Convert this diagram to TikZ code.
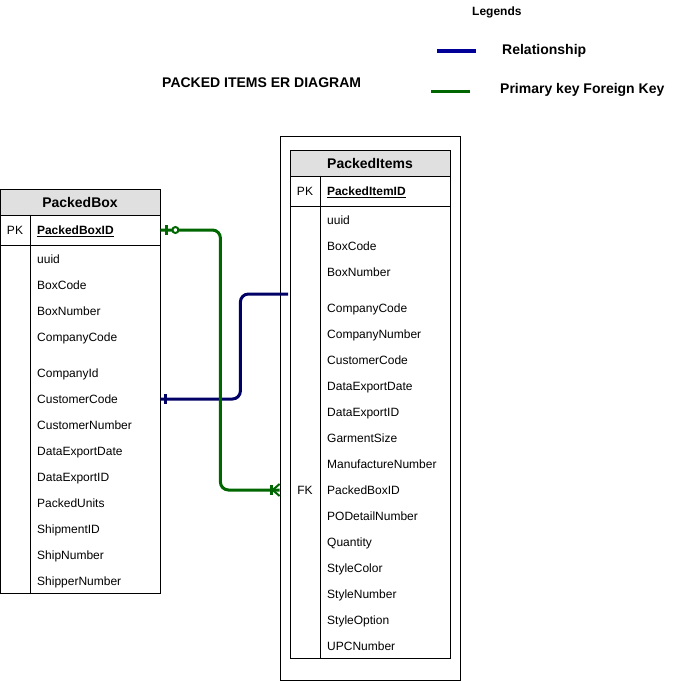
\documentclass[tikz,border=0pt]{standalone}
\usepackage{fontspec}
\setmainfont{Liberation Sans}
\usetikzlibrary{calc}
\definecolor{relblue}{RGB}{0,0,102}
\definecolor{legblue}{RGB}{0,0,153}
\definecolor{keygreen}{RGB}{0,102,0}
\definecolor{headgray}{RGB}{224,224,224}

\begin{document}
\begin{tikzpicture}[x=1pt,y=-1pt]
				\tikzstyle{tablebox}=[draw, line width=0.8pt, inner sep=0pt]
				\tikzstyle{tablehead}=[tablebox, fill=headgray, minimum width=160, minimum height=26, font=\fontsize{14}{16}\selectfont\bfseries, text height=10, text depth=0]
				\tikzstyle{keycell}=[tablebox, minimum width=30, minimum height=30, font=\fontsize{12}{14}\selectfont, text height=8.6, text depth=0]
				\tikzstyle{pkcell}=[tablebox, minimum height=30, text width=116, inner xsep=7, align=left, font=\fontsize{12}{14}\selectfont\bfseries, text height=8.6, text depth=0]
				\tikzstyle{fieldtext}=[anchor=west, inner sep=0pt, font=\fontsize{12}{14}\selectfont, text height=8.6, text depth=0]
				\tikzstyle{legendtext}=[anchor=west, inner sep=0pt, font=\fontsize{14}{16}\selectfont\bfseries, text height=10, text depth=0]
				\tikzstyle{relline}=[draw=relblue, line width=3pt, rounded corners=8]
				\tikzstyle{keyline}=[draw=keygreen, line width=3pt, rounded corners=8]
				\newcommand\XBoxText{37}
				\newcommand\XItemText{327}

				\useasboundingbox (0,0) rectangle (679,681);

				% Legend
				\node [legendtext, font=\fontsize{12}{14}\selectfont\bfseries] at (472,10) (legtitle) {Legends};
				\node [legendtext] at (502,49) (legrel) {Relationship};
				\node [legendtext] at (500,88) (legkey) {Primary key Foreign Key};
				\draw [draw=legblue, line width=4pt] ($(legrel.west)+(-65,2)$) -- ++(39,0);
				\draw [draw=keygreen, line width=3pt] ($(legkey.west)+(-69,3)$) -- ++(39,0);
				\node [legendtext] at (162,82) (title) {PACKED ITEMS ER DIAGRAM};

				% PackedBox
				\node [tablehead] at (80,202) (pbhead) {PackedBox};
				\node [keycell] at (15,230) (pbkey) {PK};
				\node [pkcell] at (95,230) (pbpk) {\underline{PackedBoxID}};
				\node [tablebox, minimum width=160, minimum height=348] at (80,419) (pbfields) {};
				\draw [line width=0.8pt] (pbkey.north east) -- (pbkey.north east |- pbfields.south);
				\node [fieldtext] at (\XBoxText,259) (pb-uuid) {uuid};
				\node [fieldtext] at (\XBoxText,285) (pb-boxcode) {BoxCode};
				\node [fieldtext] at (\XBoxText,311) (pb-boxnum) {BoxNumber};
				\node [fieldtext] at (\XBoxText,337) (pb-compcode) {CompanyCode};
				\node [fieldtext] at (\XBoxText,373) (pb-compid) {CompanyId};
				\node [fieldtext] at (\XBoxText,399) (pb-custcode) {CustomerCode};
				\node [fieldtext] at (\XBoxText,425) (pb-custnum) {CustomerNumber};
				\node [fieldtext] at (\XBoxText,451) (pb-expdate) {DataExportDate};
				\node [fieldtext] at (\XBoxText,477) (pb-expid) {DataExportID};
				\node [fieldtext] at (\XBoxText,503) (pb-units) {PackedUnits};
				\node [fieldtext] at (\XBoxText,529) (pb-shipid) {ShipmentID};
				\node [fieldtext] at (\XBoxText,555) (pb-shipnum) {ShipNumber};
				\node [fieldtext] at (\XBoxText,581) (pb-shipper) {ShipperNumber};

				% PackedItems
				\node [tablebox, minimum width=180, minimum height=544] at (370,408) (piframe) {};
				\node [tablehead] at (370,163) (pihead) {PackedItems};
				\node [keycell] at (305,191) (pikey) {PK};
				\node [pkcell] at (385,191) (pipk) {\underline{PackedItemID}};
				\node [tablebox, minimum width=160, minimum height=452] at (370,432) (pifields) {};
				\draw [line width=0.8pt] (pikey.north east) -- (pikey.north east |- pifields.south);
				\node [fieldtext] at (\XItemText,220) (pi-uuid) {uuid};
				\node [fieldtext] at (\XItemText,246) (pi-boxcode) {BoxCode};
				\node [fieldtext] at (\XItemText,272) (pi-boxnum) {BoxNumber};
				\node [fieldtext] at (\XItemText,308) (pi-compcode) {CompanyCode};
				\node [fieldtext] at (\XItemText,334) (pi-compnum) {CompanyNumber};
				\node [fieldtext] at (\XItemText,360) (pi-custcode) {CustomerCode};
				\node [fieldtext] at (\XItemText,386) (pi-expdate) {DataExportDate};
				\node [fieldtext] at (\XItemText,412) (pi-expid) {DataExportID};
				\node [fieldtext] at (\XItemText,438) (pi-size) {GarmentSize};
				\node [fieldtext] at (\XItemText,464) (pi-manu) {ManufactureNumber};
				\node [fieldtext] at (\XItemText,490) (pi-boxid) {PackedBoxID};
				\node [fieldtext] at (\XItemText,516) (pi-podetail) {PODetailNumber};
				\node [fieldtext] at (\XItemText,542) (pi-qty) {Quantity};
				\node [fieldtext] at (\XItemText,568) (pi-color) {StyleColor};
				\node [fieldtext] at (\XItemText,594) (pi-stylenum) {StyleNumber};
				\node [fieldtext] at (\XItemText,620) (pi-option) {StyleOption};
				\node [fieldtext] at (\XItemText,646) (pi-upc) {UPCNumber};
				\node [keycell, draw=none] at (305,490) (pi-fk) {FK};

				% Connectors
				\coordinate (relend) at (288,294);
				\coordinate (fkend) at (piframe.west |- pi-fk);
				\path [relline] (pbfields.east |- pb-custcode) -- ++(80,0) |- (relend);
				\path [keyline] (pbpk.east) -- ++(60,0) |- (fkend);

				% Ends
				\draw [draw=relblue, line width=2.5pt] ($(pbfields.east |- pb-custcode)+(5,-5)$) -- ++(0,10);
				\draw [draw=keygreen, line width=2.5pt] ($(pbpk.east)+(6,-5)$) -- ++(0,10);
				\draw [draw=keygreen, line width=2pt, fill=white] ($(pbpk.east)+(15,0)$) circle (3);
				\draw [draw=keygreen, line width=2.5pt] ($(fkend)+(-8,-5)$) -- ++(0,10);
				\draw [draw=keygreen, line width=2pt] ($(fkend)+(0,-6)$) -- ($(fkend)+(-7,0)$) -- ($(fkend)+(0,6)$);
 
\end{tikzpicture}
\end{document}
